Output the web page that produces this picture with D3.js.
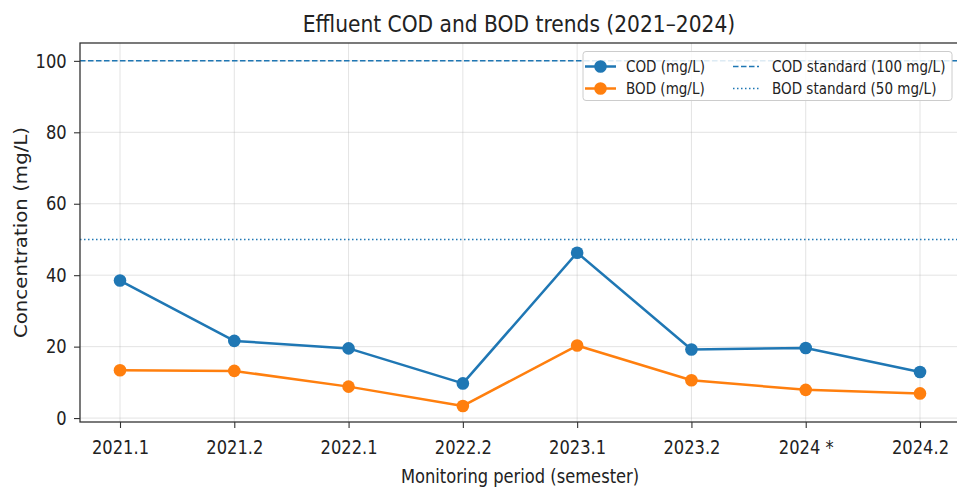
<!DOCTYPE html>
<html><head><meta charset="utf-8">
<script src="https://cdn.jsdelivr.net/npm/d3@7"></script>
<style>
body{margin:0;background:#fff;}
text{font-family:"DejaVu Sans",sans-serif;fill:#222;}
</style></head>
<body><svg id="c" width="957" height="488"></svg>
<script>
const periods = ["2021.1","2021.2","2022.1","2022.2","2023.1","2023.2","2024 *","2024.2"];
const cod = [38.5,21.6,19.5,9.7,46.3,19.2,19.6,12.9];
const bod = [13.4,13.2,8.8,3.4,20.3,10.6,7.9,6.9];
const yTicks = [0,20,40,60,80,100];
const codStandard = 100;
const bodStandard = 50;

const SX = 0.85; // horizontal squeeze of text as in the reference
const svg = d3.select("#c");
const L=80, R=960, T=43, B=422;
const x = d3.scaleLinear().domain([-0.35, periods.length-1+0.35]).range([L,R]);
const y = d3.scaleLinear().domain([-1.1,105]).range([B,T]);
const blue="#1f77b4", orange="#ff7f0e";

function htext(px,py,size,str,anchor){
  return svg.append("text").attr("transform",`translate(${px},${py}) scale(${SX},1)`)
    .attr("text-anchor",anchor||"start").attr("font-size",size).text(str);
}

// grid
const g = svg.append("g");
g.selectAll(".gx").data(periods).join("line")
 .attr("x1",(d,i)=>x(i)).attr("x2",(d,i)=>x(i)).attr("y1",T).attr("y2",B)
 .attr("stroke","#b0b0b0").attr("stroke-opacity",0.35).attr("stroke-width",1);
g.selectAll(".gy").data(yTicks).join("line")
 .attr("x1",L).attr("x2",R).attr("y1",d=>y(d)).attr("y2",d=>y(d))
 .attr("stroke","#b0b0b0").attr("stroke-opacity",0.35).attr("stroke-width",1);

// standards
svg.append("line").attr("x1",L).attr("x2",R).attr("y1",y(codStandard)).attr("y2",y(codStandard))
 .attr("stroke",blue).attr("stroke-width",1.5).attr("stroke-dasharray","5.5,2.5");
svg.append("line").attr("x1",L).attr("x2",R).attr("y1",y(bodStandard)).attr("y2",y(bodStandard))
 .attr("stroke",blue).attr("stroke-width",1.5).attr("stroke-dasharray","1.5,2.5");

// series
const line = d3.line().x((d,i)=>x(i)).y(d=>y(d));
[[cod,blue],[bod,orange]].forEach(([data,col])=>{
  svg.append("path").datum(data).attr("d",line).attr("fill","none")
    .attr("stroke",col).attr("stroke-width",2.5).attr("stroke-linejoin","round");
  svg.append("g").selectAll("circle").data(data).join("circle")
    .attr("cx",(d,i)=>x(i)).attr("cy",d=>y(d)).attr("r",6.3).attr("fill",col);
});

// axes
const xAxis = d3.axisBottom(x).tickValues(d3.range(periods.length)).tickFormat(i=>periods[i]).tickSize(6).tickPadding(12);
const yAxis = d3.axisLeft(y).tickValues(yTicks).tickSize(6).tickPadding(9.6);
const gx = svg.append("g").attr("transform",`translate(0,${B})`).call(xAxis);
const gy = svg.append("g").attr("transform",`translate(${L},0)`).call(yAxis);
[gx,gy].forEach(a=>{
  a.select(".domain").remove();
  a.selectAll("line").attr("stroke","#333").attr("stroke-width",1.1);
  a.selectAll("text").attr("font-size",19.2).attr("fill","#222")
    .attr("transform",`scale(${SX},1)`)
    .style("font-family",'"DejaVu Sans",sans-serif');
});
// spines
svg.append("rect").attr("x",L).attr("y",T).attr("width",R-L).attr("height",B-T)
 .attr("fill","none").attr("stroke","#333").attr("stroke-width",1.3);

// labels
htext((L+R)/2 - 1, 31.5, 23.8, "Effluent COD and BOD trends (2021–2024)", "middle");
htext((L+R)/2, 483, 19.2, "Monitoring period (semester)", "middle");
svg.append("text").attr("transform",`translate(27,${(T+B)/2}) scale(${SX},1) rotate(-90)`)
 .attr("text-anchor","middle").attr("font-size",19.8).text("Concentration (mg/L)");

// legend
const lg = svg.append("g");
lg.append("rect").attr("x",583).attr("y",51.5).attr("width",369).attr("height",49).attr("rx",3)
 .attr("fill","#fff").attr("fill-opacity",0.85).attr("stroke","#ccc").attr("stroke-width",1);
const items = [
  {label:"COD (mg/L)", col:blue, x:585, y:66.5, marker:true},
  {label:"BOD (mg/L)", col:orange, x:585, y:88.5, marker:true},
  {label:"COD standard (100 mg/L)", col:blue, x:733, y:66.5, dash:"5.5,2.5"},
  {label:"BOD standard (50 mg/L)", col:blue, x:733, y:88.5, dash:"1.5,2.5"}
];
items.forEach(it=>{
  if(it.marker){
    lg.append("line").attr("x1",it.x).attr("x2",it.x+31).attr("y1",it.y).attr("y2",it.y).attr("stroke",it.col).attr("stroke-width",2.5);
    lg.append("circle").attr("cx",it.x+15.5).attr("cy",it.y).attr("r",6.3).attr("fill",it.col);
    htext(it.x+41, it.y+5.5, 15.9, it.label);
  } else {
    lg.append("line").attr("x1",it.x).attr("x2",it.x+26).attr("y1",it.y).attr("y2",it.y).attr("stroke",it.col).attr("stroke-width",1.5).attr("stroke-dasharray",it.dash);
    htext(it.x+39, it.y+5.5, 15.9, it.label);
  }
});
</script></body></html>
